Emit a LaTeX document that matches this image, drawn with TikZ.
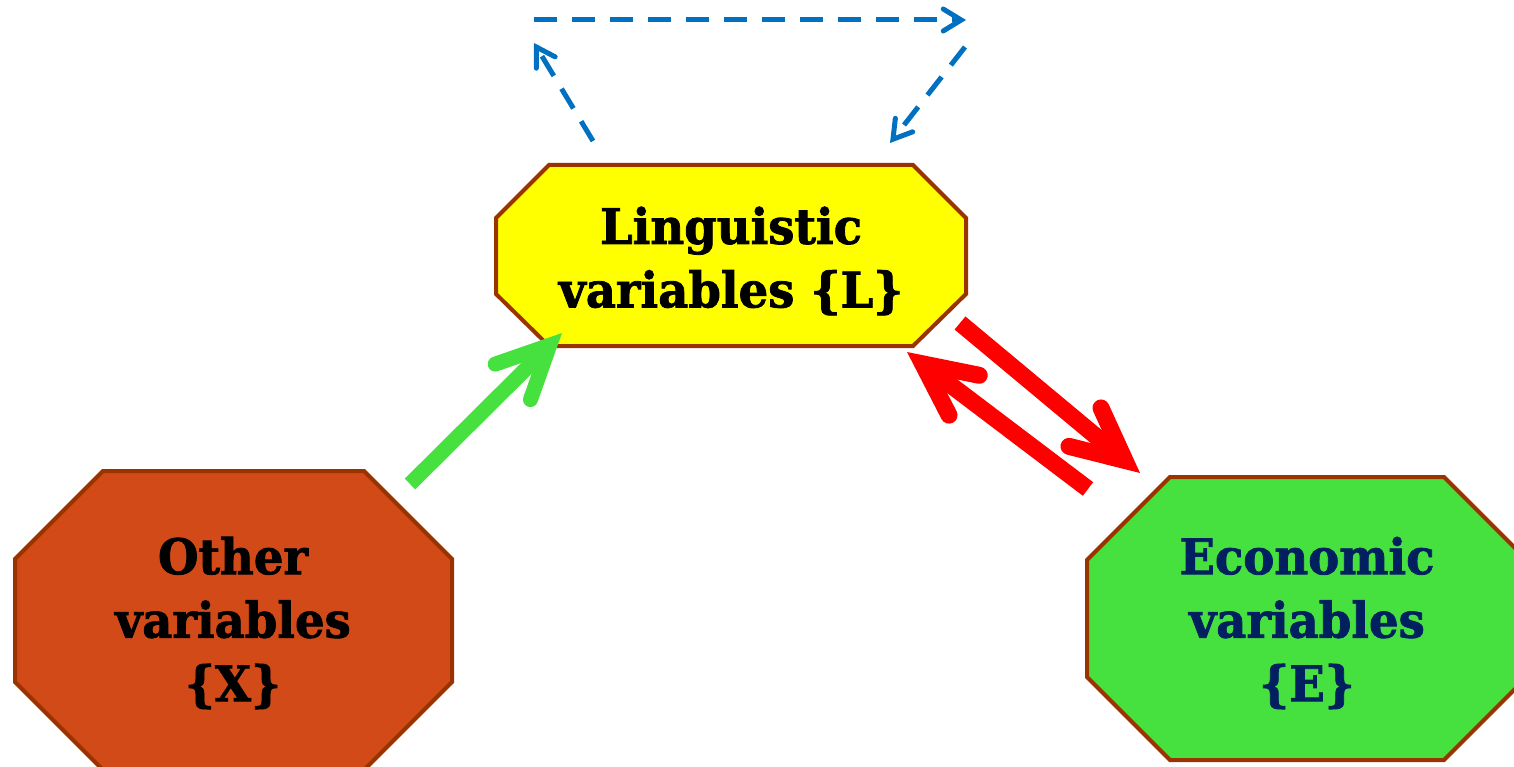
\documentclass[tikz,border=0pt]{standalone}
\usepackage{fontspec}
\setmainfont{DejaVu Serif}[FakeStretch=0.95, BoldFeatures={FakeBold=1.6}]
\usetikzlibrary{arrows.meta}
\definecolor{brd}{HTML}{993300}
\definecolor{yel}{HTML}{FFFF00}
\definecolor{org}{HTML}{D24A17}
\definecolor{grn}{HTML}{47E13F}
\definecolor{navy}{HTML}{002060}
\definecolor{rd}{HTML}{FF0000}
\definecolor{blu}{HTML}{0070C0}
\begin{document}
\begin{tikzpicture}[x=1pt,y=-1pt,
  box/.style={draw=brd, line width=4pt, line join=miter},
  lbl/.style={font=\bfseries\fontsize{49}{63.5}\selectfont, align=center, inner sep=0pt},
  garrow/.style={draw=grn, line width=15pt,
    -{Straight Barb[length=52pt,width=50pt,line cap=round,line join=miter]}},
  rarrow/.style={draw=rd, line width=17pt,
    -{Straight Barb[length=52pt,width=50pt,line cap=round,line join=miter]}},
  barrow/.style={draw=blu, line width=5pt, dash pattern=on 23pt off 15pt,
    -{Straight Barb[length=18pt,width=22pt,line cap=round,line join=miter]}}]
\useasboundingbox (0,0) rectangle (1514,767);
\clip (0,0) rectangle (1514,767);
% boxes
\draw[box, fill=yel] (549,165) -- (913,165) -- (966,218) -- (966,294) -- (913,346) -- (549,346) -- (496,294) -- (496,218) -- cycle;
\draw[box, fill=org] (103,471) -- (364,471) -- (452,559) -- (452,682) -- (364,770) -- (103,770) -- (15,682) -- (15,559) -- cycle;
\draw[box, fill=grn] (1170,477) -- (1444,477) -- (1527,560) -- (1527,677) -- (1444,760) -- (1170,760) -- (1087,677) -- (1087,560) -- cycle;
% labels
\node[lbl] (L) at (731,261) {Linguistic\\variables \{L\}};
\node[lbl] (X) at (233,623) {Other\\variables\\\{X\}};
\node[lbl, text=navy] (E) at (1307,623) {Economic\\variables\\\{E\}};
% connector end points
\coordinate (g0) at (410,484);
\coordinate (g1) at (562,333);
\coordinate (r0) at (960,323);
\coordinate (r1) at (1140,473);
\coordinate (s0) at (1088,489);
\coordinate (s1) at (907,352);
\coordinate (b0) at (593,141);
\coordinate (b1) at (534,43);
\coordinate (b2) at (534,20);
\coordinate (b3) at (966,20);
\coordinate (b4) at (965,47);
\coordinate (b5) at (890,143);
% connectors
\draw[garrow] (g0) -- (g1);
\draw[rarrow] (r0) -- (r1);
\draw[rarrow] (s0) -- (s1);
\draw[barrow] (b0) -- (b1);
\draw[barrow] (b2) -- (b3);
\draw[barrow] (b4) -- (b5);
\end{tikzpicture}
\end{document}
